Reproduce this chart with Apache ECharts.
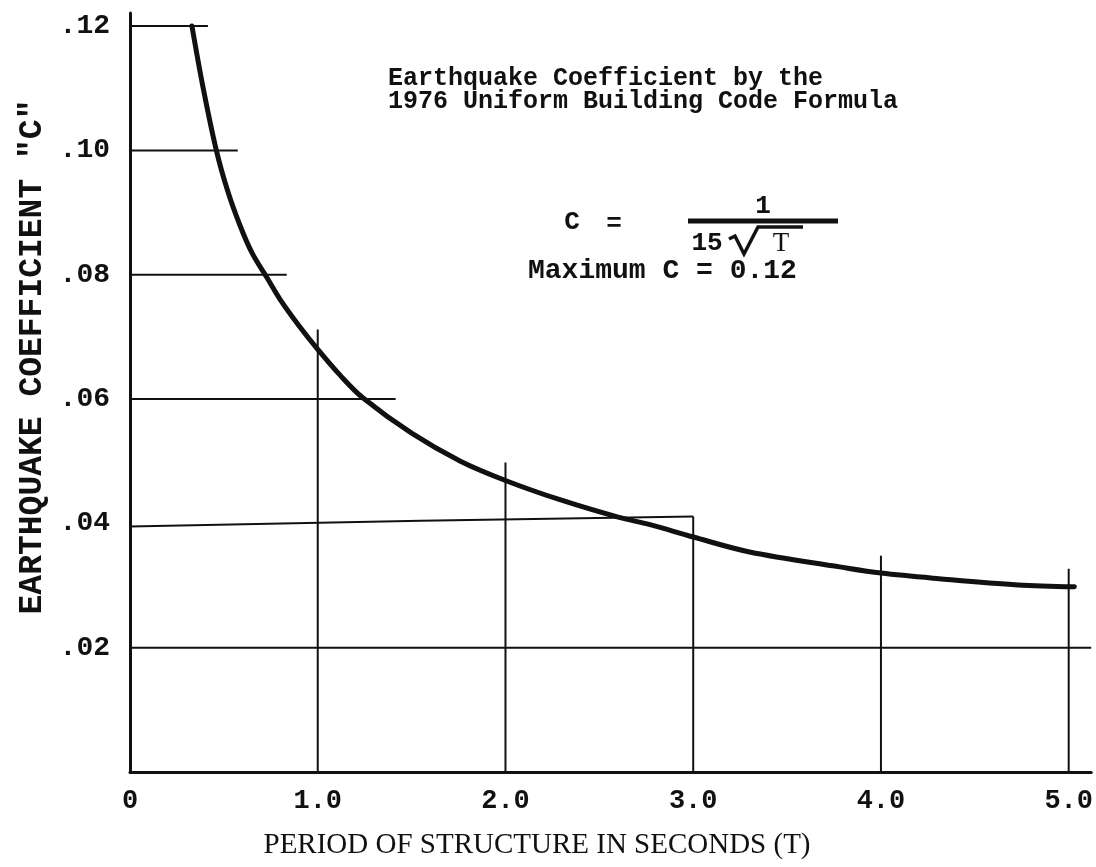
<!DOCTYPE html>
<html>
<head>
<meta charset="utf-8">
<script src="https://cdn.jsdelivr.net/npm/echarts@6/dist/echarts.min.js"></script>
<style>
html,body{margin:0;padding:0;background:#fff;}
#chart{width:1096px;height:867px;}
</style>
</head>
<body>
<div id="chart"></div>
<script>
// ---- data ----
const curveT = [0.33, 0.39, 0.46, 0.52, 0.585, 0.65, 0.73, 0.80, 0.90, 1.00, 1.12, 1.24, 1.50, 1.76, 2.00, 2.29, 2.60, 2.77, 3.00, 3.30, 3.78, 4.00, 4.31, 4.73, 5.03];
const curveC = [0.120, 0.110, 0.100, 0.0935, 0.0880, 0.0835, 0.0795, 0.0760, 0.0718, 0.0680, 0.0638, 0.0602, 0.0545, 0.0500, 0.0469, 0.0438, 0.0410, 0.0398, 0.0378, 0.0354, 0.0330, 0.0320, 0.0311, 0.0301, 0.0298];

// horizontal rules: level and where each rule stops (T)
const hRuleC   = [0.12, 0.10, 0.08, 0.06, 0.02];
const hRuleEnd = [0.415, 0.574, 0.835, 1.415, 5.12];
// the slightly tilted ".04" rule
const tiltRuleT = [0, 1.55, 3.0];
const tiltRuleC = [0.0395, 0.0404, 0.0411];
// vertical rules: position and top
const vRuleT   = [1, 2, 3, 4, 5];
const vRuleTop = [0.0712, 0.0498, 0.0411, 0.0348, 0.0327];

const xTickLabels = {0: '0', 1: '1.0', 2: '2.0', 3: '3.0', 4: '4.0', 5: '5.0'};
const yTickLabels = {2: '.02', 4: '.04', 6: '.06', 8: '.08', 10: '.10', 12: '.12'};

const titleLines = ['Earthquake Coefficient by the', '1976 Uniform Building Code Formula'];
const maxText = 'Maximum C = 0.12';
const xTitle = 'PERIOD OF STRUCTURE IN SECONDS (T)';
const yTitle = 'EARTHQUAKE COEFFICIENT "C"';

// ---- chart ----
const INK = '#111';
const MONO = "'Courier New', 'Liberation Mono', monospace";
const chart = echarts.init(document.getElementById('chart'));

const series = [];
hRuleC.forEach((c, i) => {
  series.push({type: 'line', data: [[0, c], [hRuleEnd[i], c]], symbol: 'none', silent: true,
    lineStyle: {color: INK, width: 2}});
});
series.push({type: 'line', data: tiltRuleT.map((t, i) => [t, tiltRuleC[i]]), symbol: 'none', silent: true,
  lineStyle: {color: INK, width: 2}});
vRuleT.forEach((t, i) => {
  series.push({type: 'line', data: [[t, 0], [t, vRuleTop[i]]], symbol: 'none', silent: true,
    lineStyle: {color: INK, width: 2}});
});
series.push({type: 'line', data: curveT.map((t, i) => [t, curveC[i]]), symbol: 'none',
  smooth: 0.35,
  lineStyle: {color: INK, width: 5, cap: 'round', join: 'round'}, z: 5});

chart.setOption({
  backgroundColor: '#fff',
  animation: false,
  grid: {left: 130, right: 4, top: 13, bottom: 95},
  xAxis: {
    type: 'value', min: 0, max: 5.12, interval: 1,
    axisLine: {show: true, onZero: false, lineStyle: {color: INK, width: 3}},
    axisTick: {show: false},
    splitLine: {show: false},
    axisLabel: {
      showMaxLabel: false, margin: 16,
      color: INK, fontFamily: MONO, fontWeight: 'bold', fontSize: 27,
      formatter: v => xTickLabels[Math.round(v)] !== undefined && Math.abs(v - Math.round(v)) < 1e-6 ? xTickLabels[Math.round(v)] : ''
    }
  },
  yAxis: {
    type: 'value', min: 0, max: 0.1221, interval: 0.02,
    axisLine: {show: true, lineStyle: {color: INK, width: 3}},
    axisTick: {show: false},
    splitLine: {show: false},
    axisLabel: {
      showMaxLabel: false, margin: 20,
      color: INK, fontFamily: MONO, fontWeight: 'bold', fontSize: 28,
      formatter: v => { const k = Math.round(v * 100); return Math.abs(v * 100 - k) < 1e-6 && yTickLabels[k] ? yTickLabels[k] : ''; }
    }
  },
  graphic: [
    {type: 'text', left: 388, top: 66, style: {text: titleLines[0], font: "bold 25px " + MONO, fill: INK}},
    {type: 'text', left: 388, top: 89, style: {text: titleLines[1], font: "bold 25px " + MONO, fill: INK}},
    {type: 'text', x: 572, y: 222, style: {text: 'C', font: "bold 26px " + MONO, fill: INK, align: 'center', verticalAlign: 'middle'}},
    {type: 'text', x: 614, y: 224, style: {text: '=', font: "bold 26px " + MONO, fill: INK, align: 'center', verticalAlign: 'middle'}},
    {type: 'text', x: 763, y: 206, style: {text: '1', font: "bold 26px " + MONO, fill: INK, align: 'center', verticalAlign: 'middle'}},
    {type: 'line', shape: {x1: 688, y1: 221, x2: 838, y2: 221}, style: {stroke: INK, lineWidth: 5}},
    {type: 'text', x: 707, y: 243, style: {text: '15', font: "bold 26px " + MONO, fill: INK, align: 'center', verticalAlign: 'middle'}},
    {type: 'polyline', shape: {points: [[729, 239], [735, 236], [744, 254], [758, 227], [803, 227]]},
      style: {stroke: INK, lineWidth: 3.5, fill: null}},
    {type: 'text', x: 781, y: 244, style: {text: 'T', font: "27px 'Liberation Serif', serif", fill: INK, align: 'center', verticalAlign: 'middle'}},
    {type: 'text', left: 528, top: 257, style: {text: maxText, font: "bold 28px " + MONO, fill: INK}},
    {type: 'text', x: 33, y: 357, rotation: Math.PI / 2,
      style: {text: yTitle, font: "bold 33px " + MONO, fill: INK, align: 'center', verticalAlign: 'middle'}},
    {type: 'text', x: 537, y: 845, style: {text: xTitle, font: "29px 'Liberation Serif', 'DejaVu Serif', serif", fill: INK, align: 'center', verticalAlign: 'middle'}}
  ],
  series: series
});
</script>
</body>
</html>
